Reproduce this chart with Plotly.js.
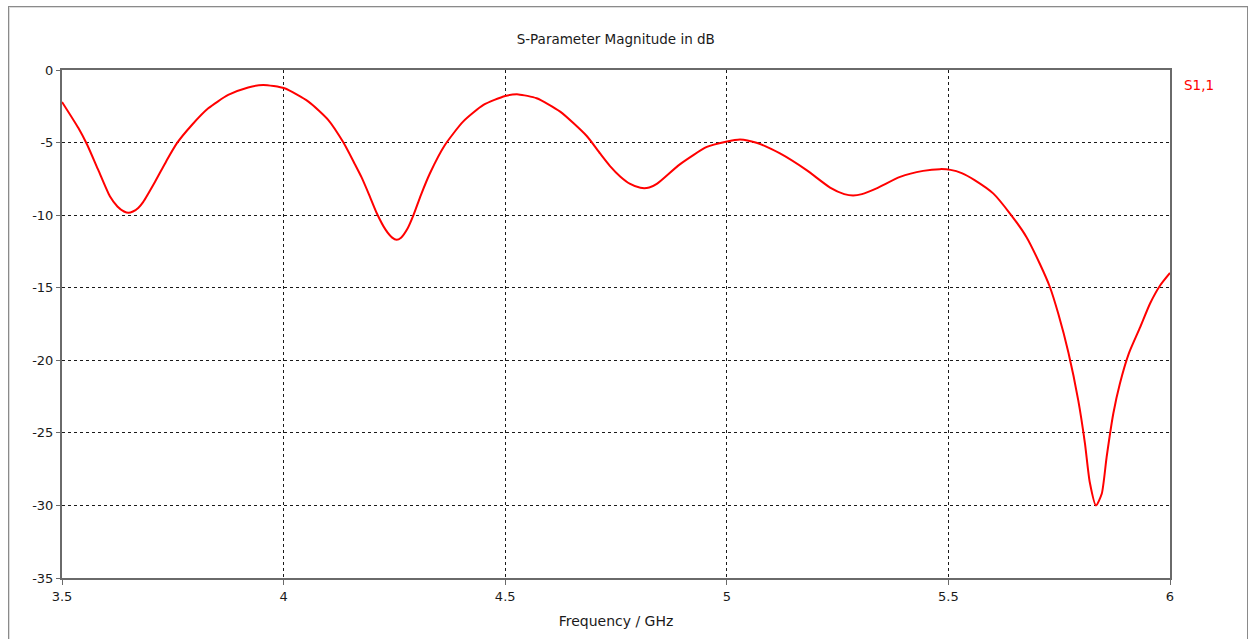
<!DOCTYPE html>
<html>
<head>
<meta charset="utf-8">
<script src="https://cdn.plot.ly/plotly-3.0.1.min.js"></script>
<style>
html,body{margin:0;padding:0;background:#fff;overflow:hidden;}
#chart{width:1249px;height:639px;position:absolute;left:0;top:0;}
#frame{position:absolute;left:8px;top:6px;width:1238px;height:640px;border-left:1px solid #8a8a8a;border-top:1px solid #8a8a8a;border-right:1px solid #8a8a8a;box-shadow:inset 1px 1px 0 #dcdcdc;pointer-events:none;}
</style>
</head>
<body>
<div id="chart"></div>
<div id="frame"></div>
<script>
const freqGHz = [3.5,3.537,3.556,3.582,3.608,3.625,3.640,3.650,3.660,3.672,3.683,3.710,3.735,3.759,3.793,3.830,3.875,3.920,3.954,4.002,4.056,4.101,4.135,4.161,4.176,4.193,4.210,4.230,4.245,4.255,4.265,4.280,4.293,4.310,4.330,4.364,4.405,4.451,4.500,4.530,4.571,4.624,4.684,4.714,4.736,4.760,4.782,4.805,4.825,4.842,4.894,4.955,4.998,5.030,5.067,5.120,5.180,5.233,5.265,5.285,5.305,5.338,5.391,5.443,5.481,5.505,5.530,5.560,5.601,5.639,5.676,5.707,5.729,5.748,5.771,5.793,5.808,5.819,5.833,5.846,5.857,5.872,5.887,5.907,5.933,5.955,5.978,6.0];
const s11dB = [-2.2,-4.0,-5.1,-6.9,-8.7,-9.4,-9.75,-9.84,-9.75,-9.5,-9.1,-7.7,-6.3,-5.06,-3.79,-2.64,-1.72,-1.20,-1.03,-1.26,-2.18,-3.45,-5.0,-6.5,-7.4,-8.6,-9.85,-11.0,-11.55,-11.7,-11.55,-10.9,-10.0,-8.6,-7.13,-5.17,-3.56,-2.41,-1.79,-1.68,-1.95,-2.87,-4.55,-5.75,-6.6,-7.35,-7.85,-8.12,-8.1,-7.85,-6.5,-5.3,-4.94,-4.78,-5.01,-5.75,-6.90,-8.1,-8.55,-8.65,-8.55,-8.15,-7.36,-6.95,-6.83,-6.88,-7.1,-7.6,-8.5,-9.89,-11.5,-13.4,-14.95,-16.8,-19.5,-22.76,-25.7,-28.4,-30.0,-29.2,-26.67,-23.68,-21.6,-19.54,-17.7,-16.09,-14.83,-13.98];
const xTickVals = [3.5,4,4.5,5,5.5,6];
const xTickText = ["3.5","4","4.5","5","5.5","6"];
const yTickVals = [0,-5,-10,-15,-20,-25,-30,-35];
const yTickText = ["0","-5","-10","-15","-20","-25","-30","-35"];
const seriesName = "S1,1";
const chartTitle = "S-Parameter Magnitude in dB";
const xTitle = "Frequency / GHz";

const font = "DejaVu Sans, Tahoma, sans-serif";
const trace = {
  x: freqGHz, y: s11dB, type: "scatter", mode: "lines", name: seriesName,
  line: {color: "#ff0000", width: 2, shape: "spline", smoothing: 0.6},
  showlegend: false, hoverinfo: "x+y"
};
const axisCommon = {
  showline: true, mirror: true, linecolor: "#6a6a6a", linewidth: 2,
  showgrid: true, gridcolor: "#1a1a1a", gridwidth: 1, griddash: "3px,3px",
  zeroline: false, ticks: "outside", tickcolor: "#6a6a6a", ticklen: 5, tickwidth: 1,
  tickfont: {family: font, size: 13, color: "#1a1a1a"}, tickmode: "array"
};
const layout = {
  width: 1249, height: 639,
  margin: {l: 62, r: 79, t: 70, b: 61},
  paper_bgcolor: "#ffffff", plot_bgcolor: "#ffffff",
  title: {text: chartTitle, font: {family: font, size: 13.5, color: "#1a1a1a"}, x: 0.493, xanchor: "center", y: 0.938, yanchor: "middle"},
  xaxis: Object.assign({}, axisCommon, {
    range: [3.5, 6], tickvals: xTickVals, ticktext: xTickText,
    title: {text: xTitle, font: {family: font, size: 14, color: "#1a1a1a"}, standoff: 14}
  }),
  yaxis: Object.assign({}, axisCommon, {
    range: [-35, 0], tickvals: yTickVals, ticktext: yTickText, ticklen: 4
  }),
  annotations: [{
    xref: "paper", yref: "paper", x: 1, y: 0.97, xanchor: "left", yanchor: "middle",
    xshift: 12, text: seriesName, showarrow: false,
    font: {family: font, size: 13.5, color: "#ff0000"}
  }]
};
Plotly.newPlot("chart", [trace], layout, {staticPlot: true, displayModeBar: false});
</script>
</body>
</html>
